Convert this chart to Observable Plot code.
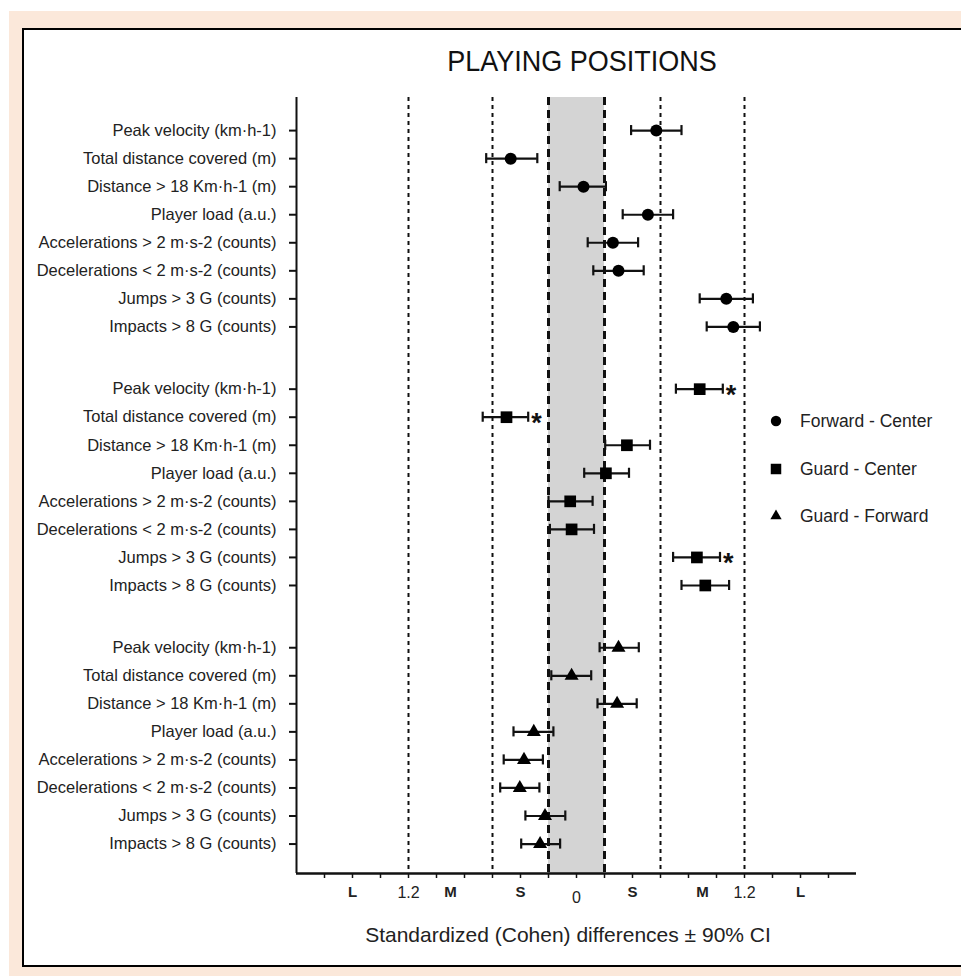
<!DOCTYPE html>
<html><head><meta charset="utf-8">
<script src="https://cdn.jsdelivr.net/npm/d3@7"></script>
<script src="https://cdn.jsdelivr.net/npm/@observablehq/plot@0.6"></script>
<style>
body{margin:0;background:#fff;font-family:"Liberation Sans",Arial,sans-serif;color:#222;}
#page{position:relative;width:961px;height:976px;overflow:hidden;}
#peach{position:absolute;left:9px;top:11px;width:952px;height:965px;background:#fbe8da;}
#box{position:absolute;left:22px;top:28px;width:960px;height:935px;background:#fff;border:2.5px solid #000;border-right:none;}
#chart{position:absolute;left:0;top:0;}
#title{position:absolute;left:382px;width:400px;top:48px;text-align:center;font-size:27px;line-height:1;color:#111;transform:scaleY(1.06);}
#xlabel{position:absolute;left:318px;width:500px;top:924px;text-align:center;font-size:21px;line-height:1;color:#222;}
.leg{position:absolute;left:766px;height:20px;font-size:17.5px;line-height:1;color:#222;white-space:nowrap;}
.leg svg{position:absolute;left:0;top:0;}
.leg span{position:absolute;left:34px;top:1.5px;}
</style>
</head><body>
<div id="page">
  <div id="peach"></div>
  <div id="box"></div>
  <div id="chart"></div>
  <div id="title">PLAYING POSITIONS</div>
  <div id="xlabel">Standardized (Cohen) differences ± 90% CI</div>
  <div id="legend"></div>
</div>
<script>
// ---- data ----
const metrics = [
  "Peak velocity (km·h-1)",
  "Total distance covered (m)",
  "Distance > 18 Km·h-1 (m)",
  "Player load (a.u.)",
  "Accelerations > 2 m·s-2 (counts)",
  "Decelerations < 2 m·s-2 (counts)",
  "Jumps > 3 G (counts)",
  "Impacts > 8 G (counts)"
];
const groups = ["Forward - Center", "Guard - Center", "Guard - Forward"];
const groupSymbols = ["circle", "square", "triangle"];

const fcEst = [0.57, -0.47, 0.05, 0.51, 0.26, 0.30, 1.07, 1.12];
const fcLo  = [0.39, -0.645, -0.12, 0.33, 0.08, 0.12, 0.88, 0.93];
const fcHi  = [0.75, -0.28, 0.21, 0.69, 0.44, 0.48, 1.26, 1.31];
const fcSig = [false, false, false, false, false, false, false, false];

const gcEst = [0.88, -0.50, 0.36, 0.21, -0.045, -0.035, 0.86, 0.92];
const gcLo  = [0.71, -0.67, 0.205, 0.055, -0.20, -0.19, 0.69, 0.75];
const gcHi  = [1.045, -0.345, 0.525, 0.375, 0.115, 0.125, 1.025, 1.09];
const gcSig = [true, true, false, false, false, false, true, false];

const gfEst = [0.30, -0.035, 0.29, -0.305, -0.375, -0.405, -0.225, -0.26];
const gfLo  = [0.165, -0.18, 0.15, -0.45, -0.52, -0.545, -0.365, -0.395];
const gfHi  = [0.445, 0.105, 0.43, -0.165, -0.24, -0.265, -0.08, -0.117];
const gfSig = [false, false, false, false, false, false, false, false];

const smallLines = [-0.2, 0.2];
const otherLines = [-1.2, -0.6, 0.6, 1.2];
const minorTicks = [-1.8,-1.6,-1.4,-1.2,-1.0,-0.8,-0.6,-0.4,-0.2,0,0.2,0.4,0.6,0.8,1.0,1.2,1.4,1.6,1.8];
const numTicks = [-1.2, 0, 1.2];
const numTickLabels = ["1.2", "0", "1.2"];
const letterTicks = [-1.6, -0.9, -0.4, 0.4, 0.9, 1.6];
const letterTickLabels = ["L", "M", "S", "S", "M", "L"];

// ---- build table ----
const groupGap = 9.22;
const est = [fcEst, gcEst, gfEst], lo = [fcLo, gcLo, gfLo], hi = [fcHi, gcHi, gfHi], sig = [fcSig, gcSig, gfSig];
const rows = [];
groups.forEach((g, gi) => metrics.forEach((m, mi) => rows.push({
  group: g, gi, metric: m, pos: gi * groupGap + mi,
  est: est[gi][mi], lo: lo[gi][mi], hi: hi[gi][mi], sig: sig[gi][mi]
})));
const labelByPos = new Map(rows.map(d => [d.pos, d.metric]));
const numRows = numTicks.map((t, i) => ({t, label: numTickLabels[i], dy: t === 0 ? 18 : 13}));
const letterRows = letterTicks.map((t, i) => ({t, label: letterTickLabels[i]}));

const yTop = -1.18, yBottom = 26.49;
const capHalf = 0.18;
const ink = "#111";
const symR = {circle: 6, square: 6.6, triangle: 5.2};

const marks = [
  Plot.rect([{a: smallLines[0], b: smallLines[1]}], {x1: "a", x2: "b", fill: "#d4d4d4"}),
  Plot.ruleX(otherLines, {stroke: ink, strokeWidth: 2, strokeDasharray: "4,4"}),
  Plot.ruleX(smallLines, {stroke: ink, strokeWidth: 3, strokeDasharray: "8,5"}),
  Plot.ruleX([-2], {stroke: ink, strokeWidth: 2}),
  Plot.ruleY([yBottom], {stroke: ink, strokeWidth: 2.5}),
  Plot.axisX({ticks: minorTicks, tickSize: 5, tickFormat: () => "", label: null, strokeWidth: 1.5, stroke: ink}),
  ...numRows.map(r => Plot.text([r], {x: "t", text: "label", frameAnchor: "bottom", lineAnchor: "top", dy: r.dy, fontSize: 16, fill: "#222"})),
  Plot.text(letterRows, {x: "t", text: "label", frameAnchor: "bottom", lineAnchor: "top", dy: 13, fontSize: 15, fontWeight: "bold", fill: "#222"}),
  Plot.axisY({ticks: rows.map(d => d.pos), tickFormat: d => labelByPos.get(d), tickSize: 7, tickPadding: 13, label: null, fontSize: 16.5, strokeWidth: 2, stroke: ink, fill: "#222"}),
  Plot.ruleY(rows, {y: "pos", x1: "lo", x2: "hi", stroke: ink, strokeWidth: 2.2}),
  Plot.ruleX(rows, {x: "lo", y1: d => d.pos - capHalf, y2: d => d.pos + capHalf, stroke: ink, strokeWidth: 2.2}),
  Plot.ruleX(rows, {x: "hi", y1: d => d.pos - capHalf, y2: d => d.pos + capHalf, stroke: ink, strokeWidth: 2.2}),
  ...groupSymbols.map((s, gi) => Plot.dot(rows.filter(d => d.gi === gi), {x: "est", y: "pos", symbol: () => s, r: symR[s], fill: "#000", stroke: "none"})),
  Plot.text(rows.filter(d => d.sig), {x: "hi", y: "pos", text: () => "*", dx: 3, dy: 6, textAnchor: "start", fontSize: 27, fontWeight: "bold", fill: "#111"})
];

const chart = Plot.plot({
  width: 961, height: 976,
  marginLeft: 296, marginRight: 105, marginTop: 97, marginBottom: 103,
  x: {domain: [-2, 2]},
  y: {domain: [yBottom, yTop]},
  symbol: {domain: groupSymbols, range: groupSymbols},
  style: {fontFamily: '"Liberation Sans", Arial, sans-serif', background: "transparent", color: "#222", overflow: "visible"},
  marks
});
document.getElementById("chart").appendChild(chart);

// ---- legend ----
const legendY = [421, 469, 516];
const legend = document.getElementById("legend");
const symPaths = {
  circle: d3.symbol(d3.symbolCircle, Math.PI * 5.2 * 5.2)(),
  square: d3.symbol(d3.symbolSquare, 110)(),
  triangle: d3.symbol(d3.symbolTriangle, 55)()
};
groups.forEach((g, i) => {
  const div = document.createElement("div");
  div.className = "leg";
  div.style.top = (legendY[i] - 10) + "px";
  div.innerHTML = `<svg width="20" height="20"><path transform="translate(10,10)" d="${symPaths[groupSymbols[i]]}" fill="#000"/></svg><span>${g}</span>`;
  legend.appendChild(div);
});
</script>
</body></html>
